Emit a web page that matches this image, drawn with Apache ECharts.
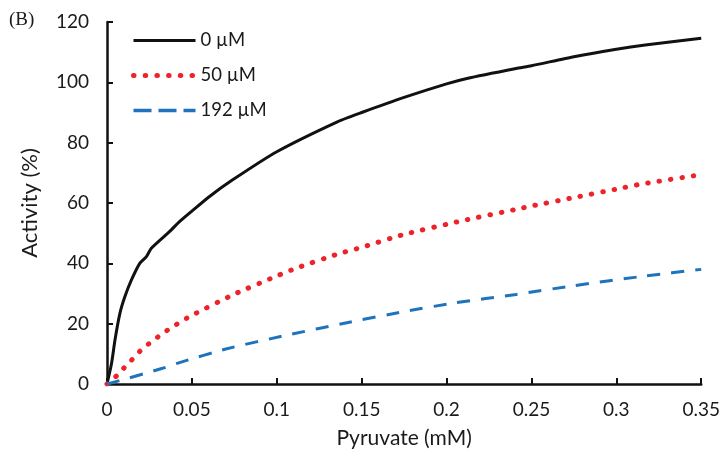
<!DOCTYPE html>
<html>
<head>
<meta charset="utf-8">
<script src="https://cdn.jsdelivr.net/npm/echarts@6/dist/echarts.min.js"></script>
<style>html,body{margin:0;padding:0;background:#fff;}#c{width:723px;height:460px;}</style>
</head>
<body>
<div id="c"></div>
<script>
var seriesNames = ['0 µM', '50 µM', '192 µM'];
var xTicks = [0, 0.05, 0.1, 0.15, 0.2, 0.25, 0.3, 0.35];
var yTicks = [0, 20, 40, 60, 80, 100, 120];

var x0 = [0, 0.0027, 0.0047, 0.0076, 0.0105, 0.0144, 0.0193, 0.0232, 0.0261, 0.0368, 0.0427, 0.05, 0.06, 0.0738, 0.1, 0.136, 0.15, 0.175, 0.2, 0.212, 0.241, 0.25, 0.275, 0.3, 0.317, 0.35];
var y0 = [0, 6.9, 14.6, 23.4, 28.9, 34.5, 40, 42.2, 45, 50.5, 53.8, 57.3, 62, 67.6, 77, 87, 90, 95, 99.5, 101.3, 104.6, 105.5, 108.5, 111, 112.4, 114.6];

var x50 = [0, 0.0066, 0.0111, 0.0158, 0.0205, 0.0257, 0.0312, 0.0368, 0.0425, 0.0485, 0.075, 0.1, 0.111, 0.136, 0.15, 0.175, 0.209, 0.241, 0.25, 0.275, 0.3, 0.315, 0.35];
var y50 = [0, 3.2, 6, 8.7, 11.5, 13.8, 16.1, 18.3, 20.3, 22.3, 29.8, 35.8, 38.3, 43.1, 45.3, 49.6, 54.1, 57.9, 59, 61.8, 64.6, 66.3, 69.4];

var x192 = [0, 0.0035, 0.0327, 0.0427, 0.07, 0.106, 0.142, 0.175, 0.205, 0.241, 0.275, 0.317, 0.35];
var y192 = [0, 0.5, 5.2, 7.1, 11.6, 16.2, 20.4, 24, 26.9, 29.7, 32.6, 35.8, 38];

function pairs(xs, ys) { return xs.map(function (x, i) { return [x, ys[i]]; }); }

var font = 'Lato, "Open Sans", sans-serif';
var txt = '#1a1a1a';
var cBlack = '#111', cRed = '#ee2229', cBlue = '#1f73bd';
var chart = echarts.init(document.getElementById('c'), null, {renderer: 'canvas'});
chart.setOption({
  animation: false,
  backgroundColor: '#fff',
  graphic: [{
    type: 'text', left: 9, top: 11,
    style: {text: '(B)', font: '19px "Liberation Serif", "Times New Roman", serif', fill: txt}
  }],
  legend: {
    orient: 'vertical', left: 126, top: 26,
    itemWidth: 62, itemHeight: 14, itemGap: 16,
    itemStyle: {opacity: 0},
    textStyle: {fontFamily: font, fontSize: 18.5, color: txt},
    data: [
      {name: seriesNames[0], lineStyle: {color: cBlack, width: 3, type: 'solid'}},
      {name: seriesNames[1], lineStyle: {color: cRed, width: 5, type: [0.5, 11.2], cap: 'round'}},
      {name: seriesNames[2], lineStyle: {color: cBlue, width: 3.5, type: [18, 7]}}
    ]
  },
  grid: {left: 107, right: 17, top: 22, bottom: 76, containLabel: false},
  xAxis: {
    type: 'value', min: 0, max: 0.35, interval: 0.05,
    name: 'Pyruvate (mM)', nameLocation: 'middle', nameGap: 44,
    nameTextStyle: {fontFamily: font, fontSize: 21, color: txt},
    axisLine: {lineStyle: {color: '#111', width: 2.5}},
    axisTick: {inside: true, length: 6, lineStyle: {color: '#111', width: 2}},
    axisLabel: {fontFamily: font, fontSize: 19, color: txt, margin: 16,
      formatter: function (v) { return String(+v.toFixed(2)); }},
    splitLine: {show: false}
  },
  yAxis: {
    type: 'value', min: 0, max: 120, interval: 20,
    name: 'Activity (%)', nameLocation: 'middle', nameGap: 66,
    nameTextStyle: {fontFamily: font, fontSize: 22, color: txt},
    axisLine: {show: true, lineStyle: {color: '#111', width: 2.5}},
    axisTick: {show: true, inside: true, length: 6, lineStyle: {color: '#111', width: 2}},
    axisLabel: {fontFamily: font, fontSize: 19, color: txt, margin: 18},
    splitLine: {show: false}
  },
  series: [
    {name: seriesNames[0], type: 'line', data: pairs(x0, y0), showSymbol: false, symbol: 'none',
     smooth: 0.2, color: cBlack,
     lineStyle: {color: cBlack, width: 3}},
    {name: seriesNames[1], type: 'line', data: pairs(x50, y50), showSymbol: false, symbol: 'none',
     smooth: 0.2, color: cRed,
     lineStyle: {color: cRed, width: 5, type: [0.5, 11], cap: 'round'}},
    {name: seriesNames[2], type: 'line', data: pairs(x192, y192), showSymbol: false, symbol: 'none',
     smooth: 0.2, color: cBlue,
     lineStyle: {color: cBlue, width: 3, type: [13, 11]}}
  ]
});
</script>
</body>
</html>
